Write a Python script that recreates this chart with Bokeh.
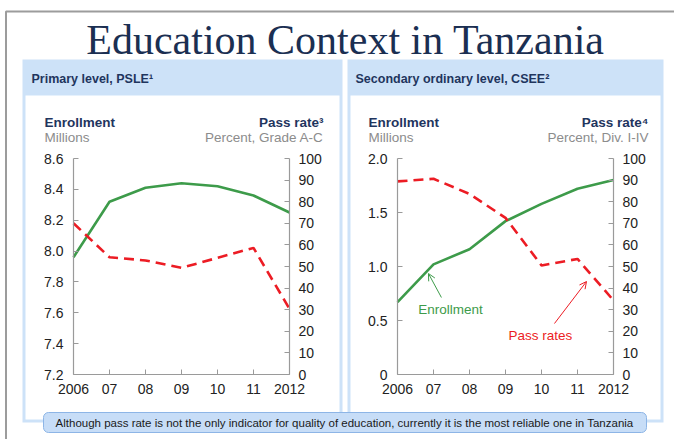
from bokeh.plotting import figure
from bokeh.models import Range1d, LinearAxis, FixedTicker, Arrow, OpenHead
from bokeh.core.properties import value
from bokeh.embed import file_html
from bokeh.resources import INLINE

# ---------------- data ----------------
years = [2006, 2007, 2008, 2009, 2010, 2011, 2012]
year_labels = ["2006", "07", "08", "09", "10", "11", "2012"]

psle_enrollment = [7.96, 8.32, 8.41, 8.44, 8.42, 8.36, 8.25]      # millions
psle_pass_rate = [70.0, 54.3, 52.8, 49.4, 54.0, 58.6, 30.4]       # percent, grade A-C

csee_enrollment = [0.67, 1.02, 1.16, 1.42, 1.58, 1.72, 1.80]      # millions
csee_pass_rate = [89.4, 90.6, 83.6, 72.5, 50.5, 53.5, 34.3]       # percent, div I-IV

psle_left_ticks = [7.2, 7.4, 7.6, 7.8, 8.0, 8.2, 8.4, 8.6]
psle_left_labels = ["7.2", "7.4", "7.6", "7.8", "8.0", "8.2", "8.4", "8.6"]
csee_left_ticks = [0, 0.5, 1.0, 1.5, 2.0]
csee_left_labels = ["0", "0.5", "1.0", "1.5", "2.0"]
pass_ticks = [0, 10, 20, 30, 40, 50, 60, 70, 80, 90, 100]

title_text = "Education Context in Tanzania"
panel_titles = ["Primary level, PSLE\u00b9", "Secondary ordinary level, CSEE\u00b2"]
right_titles = ["Pass rate\u00b3", "Pass rate\u2074"]
right_units = ["Percent, Grade A-C", "Percent, Div. I-IV"]
note_text = ("Although pass rate is not the only indicator for quality of education, "
             "currently it is the most reliable one in Tanzania")

# ---------------- styling ----------------
W, H = 674, 439
GREEN = "#3d9b4a"
RED = "#ec1c24"
NAVY = "#1f355e"
GREY_TXT = "#8c8c8c"
PANEL_BLUE = "#cde2f8"
AX_GREY = "#9a9a9a"
FONT = "Liberation Sans"


def Y(ref_y):
    # screen y (from top) -> canvas coordinate (from bottom)
    return H - ref_y


def lin_range(v0, p0, v1, p1, size):
    scale = (p1 - p0) / (v1 - v0)
    return Range1d(v0 - p0 / scale, v0 + (size - p0) / scale)


p = figure(width=W, height=H, output_backend="svg", toolbar_location=None,
           x_range=Range1d(0, W), y_range=Range1d(0, H),
           x_axis_type=None, y_axis_type=None, min_border=0)
p.title.visible = False
p.outline_line_color = None
p.background_fill_color = "white"
p.border_fill_color = "white"

# outer grey frame
p.line([5.5, 5.5, W], [0, Y(11), Y(11)], line_color="#9c9c9c", line_width=2)

# panels (blue frame + header band, white interior)
panels = [(22, 342), (347, 663)]
for (l, r) in panels:
    p.quad(left=l, right=r, bottom=Y(422), top=Y(59),
           fill_color=PANEL_BLUE, line_color=None)
    p.quad(left=l + 3, right=r - 3, bottom=Y(419), top=Y(95),
           fill_color="white", line_color=None)

# title
p.text(x=[345], y=[Y(39)], text=[title_text], text_font=value("Liberation Serif"),
       text_font_size="42px", text_color="#1b2f52", text_align="center",
       text_baseline="alphabetic")

# panel header texts
p.text(x=[31, 355], y=[Y(78.5)] * 2, text=panel_titles, text_font=value(FONT),
       text_font_size="12.5px", text_font_style="bold", text_color=NAVY,
       text_baseline="alphabetic")

# axis titles
p.text(x=[44, 368], y=[Y(122)] * 2, text=["Enrollment", "Enrollment"],
       text_font=value(FONT), text_font_size="13.5px", text_font_style="bold",
       text_color=NAVY, text_baseline="alphabetic")
p.text(x=[44, 368], y=[Y(137)] * 2, text=["Millions", "Millions"],
       text_font=value(FONT), text_font_size="13.5px", text_color=GREY_TXT,
       text_baseline="alphabetic")
p.text(x=[323, 648], y=[Y(122)] * 2, text=right_titles,
       text_font=value(FONT), text_font_size="13.5px", text_font_style="bold",
       text_color=NAVY, text_baseline="alphabetic", text_align="right")
p.text(x=[323, 648], y=[Y(137)] * 2, text=right_units,
       text_font=value(FONT), text_font_size="13.5px", text_color=GREY_TXT,
       text_baseline="alphabetic", text_align="right")

# ---------------- chart ranges ----------------
y_bot, y_top = Y(374), Y(158)
p.extra_x_ranges = {
    "x1": lin_range(2006, 73, 2012, 289, W),
    "x2": lin_range(2006, 397, 2012, 613, W),
}
p.extra_y_ranges = {
    "y1L": lin_range(7.2, y_bot, 8.6, y_top, H),
    "y1R": lin_range(0, y_bot, 100, y_top, H),
    "y2L": lin_range(0, y_bot, 2.0, y_top, H),
    "y2R": lin_range(0, y_bot, 100, y_top, H),
}


def style_axis(ax):
    ax.axis_line_color = AX_GREY
    ax.axis_line_width = 1.2
    ax.major_tick_line_color = AX_GREY
    ax.major_tick_in = 5
    ax.major_tick_out = 0
    ax.minor_tick_line_color = None
    ax.major_label_text_font = FONT
    ax.major_label_text_font_size = "14px"
    ax.major_label_text_color = "#222222"
    ax.major_label_standoff = 10


charts = [
    ("x1", "y1L", "y1R", psle_left_ticks, psle_left_labels, psle_enrollment, psle_pass_rate),
    ("x2", "y2L", "y2R", csee_left_ticks, csee_left_labels, csee_enrollment, csee_pass_rate),
]
for xr, yl, yr, lt, ll, enr, pas in charts:
    left = LinearAxis(x_range_name=xr, y_range_name=yl, fixed_location=years[0],
                      bounds=(lt[0], lt[-1]), ticker=FixedTicker(ticks=lt),
                      major_label_overrides={t: s for t, s in zip(lt, ll)})
    style_axis(left)
    p.add_layout(left, "left")
    right = LinearAxis(x_range_name=xr, y_range_name=yr, fixed_location=years[-1],
                       bounds=(pass_ticks[0], pass_ticks[-1]),
                       ticker=FixedTicker(ticks=pass_ticks))
    style_axis(right)
    right.major_label_standoff = 9
    p.add_layout(right, "right")
    bottom = LinearAxis(x_range_name=xr, y_range_name=yl, fixed_location=lt[0],
                        bounds=(years[0], years[-1]), ticker=FixedTicker(ticks=years),
                        major_label_overrides={t: s for t, s in zip(years, year_labels)})
    style_axis(bottom)
    bottom.major_label_standoff = 9
    p.add_layout(bottom, "below")

    p.line(years, enr, x_range_name=xr, y_range_name=yl, line_color=GREEN,
           line_width=2.6)
    p.line(years, pas, x_range_name=xr, y_range_name=yr, line_color=RED,
           line_width=2.6, line_dash="10 6")

# annotations in chart 2
p.text(x=[2007.47], y=[0.60], text=["Enrollment"], x_range_name="x2", y_range_name="y2L",
       text_font=value(FONT), text_font_size="13.5px", text_color=GREEN,
       text_align="center", text_baseline="middle")
p.text(x=[2009.97], y=[0.36], text=["Pass rates"], x_range_name="x2", y_range_name="y2L",
       text_font=value(FONT), text_font_size="13.5px", text_color=RED,
       text_align="center", text_baseline="middle")
p.add_layout(Arrow(x_start=2007.22, y_start=0.713, x_end=2006.86, y_end=0.935,
                   x_range_name="x2", y_range_name="y2L", line_color=GREEN, line_width=1,
                   end=OpenHead(size=7, line_color=GREEN, line_width=1)))
p.add_layout(Arrow(x_start=2010.36, y_start=0.472, x_end=2011.25, y_end=0.861,
                   x_range_name="x2", y_range_name="y2L", line_color=RED, line_width=1,
                   end=OpenHead(size=7, line_color=RED, line_width=1)))

# bottom note box
p.quad(left=43, right=646, bottom=Y(432), top=Y(412),
       fill_color="#c7ddf7", line_color="#8db5e6", line_width=1, border_radius=5)
p.text(x=[344], y=[Y(422)], text=[note_text], text_font=value(FONT),
       text_font_size="11.5px", text_color="#1a1a1a", text_align="center",
       text_baseline="middle")

open("out.html", "w").write(file_html(p, INLINE))
